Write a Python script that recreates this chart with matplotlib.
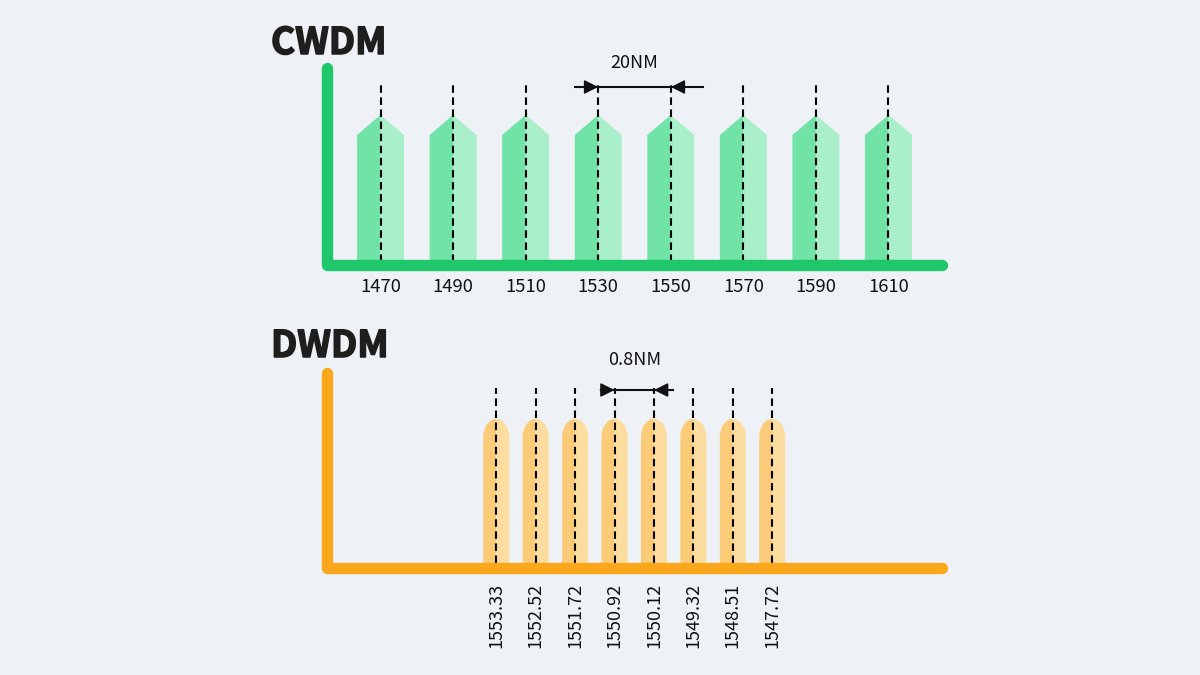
import matplotlib
matplotlib.use("Agg")
import matplotlib.pyplot as plt
import matplotlib.patheffects as pe
import numpy as np

# ---------------- data ----------------
cwdm_title = "CWDM"
dwdm_title = "DWDM"
cwdm_labels = ["1470", "1490", "1510", "1530", "1550", "1570", "1590", "1610"]
dwdm_labels = ["1553.33", "1552.52", "1551.72", "1550.92", "1550.12",
               "1549.32", "1548.51", "1547.72"]
cwdm_spacing_label = "20NM"
dwdm_spacing_label = "0.8NM"
cwdm_arrow_pair = (3, 4)
dwdm_arrow_pair = (3, 4)

# ---------------- style ----------------
BG = "#EEF2F6"
GREEN = "#20C76A"
GREEN_L = "#72E3A7"
GREEN_R = "#A9EFCA"
ORANGE = "#FAA71C"
ORANGE_L = "#FBCB78"
ORANGE_R = "#FDDD9F"
INK = "#111111"
FONT = ["Noto Sans CJK SC", "DejaVu Sans"]

W, H = 1200, 675
fig = plt.figure(figsize=(12, 6.75), dpi=100)
fig.patch.set_facecolor(BG)


def make_panel(c0, step, base_px):
    ax = fig.add_axes([0, 0, 1, 1])
    ax.set_xlim(-c0 / step, (W - c0) / step)
    ax.set_ylim(-(H - base_px), base_px)
    ax.axis("off")
    ax.patch.set_alpha(0)
    px = lambda p: (p - c0) / step
    return ax, px


def draw_axis_lines(ax, px, color, top_h):
    xl, xr = px(327), px(942)
    ax.plot([xl, xl, xr], [top_h, 0, 0], color=color, lw=8.2,
            solid_capstyle="round", solid_joinstyle="round", zorder=4)


def dashed(ax, i, y0, y1):
    ax.plot([i, i], [y0, y1], color="black", lw=1.5, dashes=(3.6, 2.2),
            zorder=3)


def spacing_arrow(ax, px, pair, y, ext_l, ext_r, step, label, label_y):
    a, b = pair
    xs, xe = a - ext_l / step, b + ext_r / step
    ax.plot([xs, xe], [y, y], color=INK, lw=1.5, zorder=5)
    style = "-|>,head_length=0.6,head_width=0.3"
    ax.annotate("", xy=(a, y), xytext=(xs, y),
                arrowprops=dict(arrowstyle=style, color=INK, lw=1.2,
                                mutation_scale=14, shrinkA=0, shrinkB=0),
                zorder=5)
    ax.annotate("", xy=(b, y), xytext=(xe, y),
                arrowprops=dict(arrowstyle=style, color=INK, lw=1.2,
                                mutation_scale=14, shrinkA=0, shrinkB=0),
                zorder=5)
    ax.text((a + b) / 2, label_y, label, ha="center", va="center",
            fontsize=13, color=INK, family=FONT)


# ---------------- CWDM ----------------
c_step = 72.57
ax1, px1 = make_panel(380.5, c_step, 265)
draw_axis_lines(ax1, px1, GREEN, 265 - 67.5)
hw = 23.5 / c_step
for i, lab in enumerate(cwdm_labels):
    ax1.fill([i - hw, i - hw, i, i], [0, 130, 150, 0], color=GREEN_L,
             lw=0, zorder=1)
    ax1.fill([i, i, i + hw, i + hw], [0, 150, 130, 0], color=GREEN_R,
             lw=0, zorder=1)
    dashed(ax1, i, 3, 265 - 82)
    ax1.text(i, 265 - 287, lab, ha="center", va="center", fontsize=13.3,
             color=INK, family=FONT)
spacing_arrow(ax1, px1, cwdm_arrow_pair, 265 - 87, 23, 32, c_step,
              cwdm_spacing_label, 265 - 63)

# ---------------- DWDM ----------------
d_step = 39.43
ax2, px2 = make_panel(496.25, d_step, 568)
draw_axis_lines(ax2, px2, ORANGE, 568 - 373)
hw2 = 13 / d_step
ys, dh = 131, 18
t = np.linspace(0, np.pi / 2, 30)
for i, lab in enumerate(dwdm_labels):
    lx = np.concatenate([[i - hw2], i - hw2 * np.cos(t), [i]])
    ly = np.concatenate([[0], ys + dh * np.sin(t), [0]])
    ax2.fill(lx, ly, color=ORANGE_L, lw=0, zorder=1)
    rx = np.concatenate([[i], i + hw2 * np.sin(t), [i + hw2]])
    ry = np.concatenate([[0], ys + dh * np.cos(t), [0]])
    ax2.fill(rx, ry, color=ORANGE_R, lw=0, zorder=1)
    dashed(ax2, i, 5, 568 - 388)
    ax2.text(i, 568 - 583, lab, ha="center", va="top", rotation=90,
             fontsize=13, color=INK, family=FONT)
spacing_arrow(ax2, px2, dwdm_arrow_pair, 568 - 390, 14, 19, d_step,
              dwdm_spacing_label, 568 - 360)

# ---------------- titles ----------------
heavy = [pe.withStroke(linewidth=1.1, foreground="#1E1E1E")]
fig.text(271 / W, 1 - 54 / H, cwdm_title, fontsize=26.5, fontweight="bold",
         color="#1E1E1E", family=FONT, va="baseline", ha="left",
         path_effects=heavy)
fig.text(271 / W, 1 - 357 / H, dwdm_title, fontsize=26.5, fontweight="bold",
         color="#1E1E1E", family=FONT, va="baseline", ha="left",
         path_effects=heavy)

fig.savefig("out.png", dpi=100, facecolor=BG)
